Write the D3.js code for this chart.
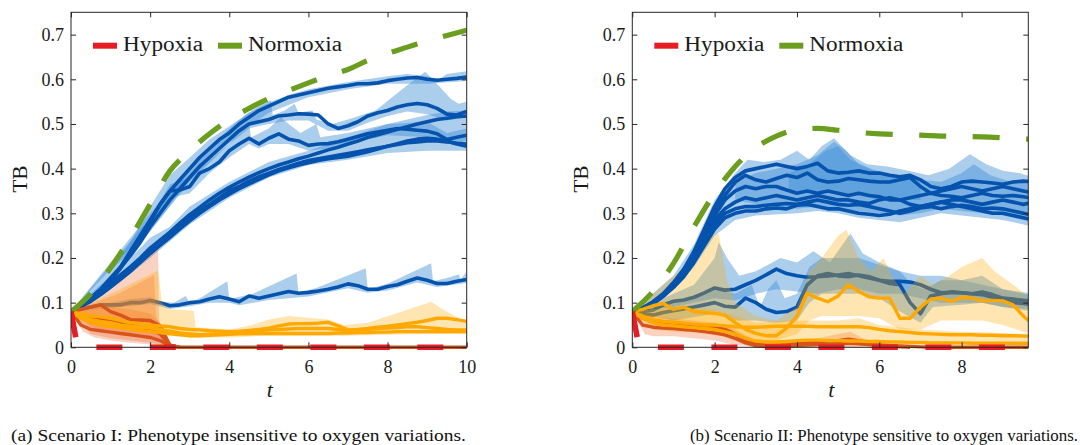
<!DOCTYPE html>
<html><head><meta charset="utf-8">
<script src="https://cdn.jsdelivr.net/npm/d3@7/dist/d3.min.js"></script>
<style>body{margin:0;background:#fff}svg{display:block}</style>
</head><body><svg id="c" width="1080" height="445"></svg>
<script>
// ---------- time grids ----------
const tA = [0,.25,.5,.75,1,1.25,1.5,1.75,2,2.25,2.5,2.75,3,3.25,3.5,3.75,4,4.25,4.5,4.75,5,5.25,5.5,5.75,6,6.25,6.5,6.75,7,7.25,7.5,7.75,8,8.25,8.5,8.75,9,9.25,9.5,9.75,10];
const tB = [0,.25,.5,.75,1,1.25,1.5,1.75,2,2.25,2.5,2.75,3,3.25,3.5,3.75,4,4.25,4.5,4.75,5,5.25,5.5,5.75,6,6.25,6.5,6.75,7,7.25,7.5,7.75,8,8.25,8.5,8.75,9,9.25,9.5,9.75];
const xTicksA = [0,2,4,6,8,10];
const xTicksB = [0,2,4,6,8];
const yTicks = [0,.1,.2,.3,.4,.5,.6,.7];

// ---------- reference curves ----------
const tNormA = [0,.5,1,1.5,2,2.5,3,3.5,4,4.5,5,5.5,6,6.5,7,7.5,8,8.5,9,9.5,10];
const normA  = [.08,.12,.178,.245,.32,.395,.44,.478,.51,.535,.557,.575,.592,.608,.622,.642,.658,.672,.686,.698,.71];
const tNormB = [0,.5,1,1.5,2,2.5,3,3.5,4,4.5,5,5.5,6,6.5,7,7.5,8,8.5,9,9.62];
const normB  = [.08,.125,.188,.27,.345,.405,.447,.473,.487,.49,.486,.481,.478,.476,.475,.473,.472,.471,.469,.466];
const tHypA = [0,.15,.25,10];
const hypA  = [.08,.008,0,0];
const tHypB = [0,.15,.25,9.62];
const hypB  = [.08,.008,0,0];

// ---------- Scenario I: blue trajectories ----------
const blueA1 = [.08,.095,.11,.13,.155,.18,.215,.25,.285,.32,.35,.375,.4,.425,.445,.465,.48,.5,.515,.53,.54,.55,.56,.565,.57,.575,.58,.583,.586,.59,.59,.592,.597,.6,.603,.604,.6,.598,.6,.602,.605];
const blueA2 = [.08,.095,.11,.13,.152,.178,.205,.235,.27,.3,.33,.355,.38,.405,.425,.445,.465,.485,.5,.505,.51,.518,.52,.523,.522,.52,.5,.49,.496,.505,.518,.525,.53,.538,.543,.546,.543,.535,.522,.52,.528];
const blueA3 = [.08,.095,.11,.13,.15,.177,.21,.24,.28,.32,.35,.352,.36,.39,.4,.415,.44,.455,.468,.455,.468,.478,.466,.462,.452,.455,.456,.46,.466,.472,.478,.482,.486,.49,.488,.486,.484,.478,.465,.47,.475];
const blueA4 = [.08,.092,.105,.122,.14,.158,.176,.196,.215,.23,.25,.27,.29,.305,.32,.335,.35,.36,.372,.382,.39,.398,.405,.412,.418,.422,.426,.43,.434,.438,.442,.446,.45,.454,.458,.46,.462,.462,.46,.457,.455];
const blueA5 = [.08,.093,.107,.125,.143,.162,.18,.2,.222,.24,.258,.278,.297,.313,.33,.345,.358,.37,.381,.391,.4,.408,.415,.422,.428,.435,.442,.448,.455,.462,.47,.476,.482,.488,.494,.5,.505,.51,.513,.516,.518];
const blueA6 = [.08,.091,.103,.118,.135,.152,.17,.19,.21,.228,.246,.265,.283,.3,.315,.33,.343,.355,.366,.376,.386,.395,.402,.408,.413,.418,.422,.425,.428,.433,.438,.444,.45,.456,.462,.466,.468,.466,.462,.455,.45];
const blueA7 = [.08,.085,.09,.095,.095,.095,.1,.1,.105,.1,.093,.095,.1,.102,.108,.113,.108,.102,.115,.11,.115,.12,.125,.121,.123,.126,.13,.135,.142,.138,.13,.13,.136,.14,.148,.155,.15,.143,.143,.148,.152];
// ---------- Scenario I: orange / red-orange trajectories ----------
const ambA1 = [.08,.075,.07,.068,.065,.06,.055,.053,.05,.048,.046,.042,.04,.039,.037,.036,.035,.036,.038,.04,.043,.048,.052,.053,.053,.054,.056,.048,.039,.04,.042,.045,.047,.05,.053,.056,.06,.065,.065,.062,.058];
const ambA2 = [.08,.07,.062,.058,.055,.05,.047,.045,.043,.04,.036,.032,.03,.028,.029,.03,.031,.033,.035,.037,.039,.04,.041,.042,.042,.042,.042,.04,.035,.037,.04,.042,.043,.044,.046,.046,.044,.042,.04,.039,.039];
const ambA3 = [.08,.065,.055,.05,.047,.044,.04,.037,.035,.033,.03,.028,.026,.026,.027,.028,.029,.03,.03,.031,.031,.031,.031,.031,.031,.031,.031,.032,.032,.033,.033,.034,.034,.035,.035,.035,.035,.035,.035,.035,.035];
const redA1 = [.08,.085,.09,.095,.08,.072,.062,.061,.06,.048,.005,0,0,0,0,0,0,0,0,0,0,0,0,0,0,0,0,0,0,0,0,0,0,0,0,0,0,0,0,0,0];
const redA2 = [.08,.068,.064,.062,.058,.054,.049,.044,.04,.03,.005,0];
const redA3 = [.08,.05,.04,.037,.034,.031,.028,.025,.022,.015,.003,0];

// ---------- Scenario I: bands [t, value] ----------
const bandA1Hi = [[0,.08],[1,.17],[1.5,.235],[2,.315],[2.5,.385],[3,.425],[3.5,.465],[4,.495],[4.5,.525],[5,.548],[5.5,.565],[6,.578],[7,.594],[8,.607],[8.5,.612],[9,.607],[9.3,.6],[9.5,.612],[10,.618]];
const bandA1Lo = [[0,.08],[1,.14],[2,.26],[3,.375],[4,.465],[5,.525],[6,.56],[7,.578],[8,.59],[9,.59],[10,.596]];
const bandA2Hi = [[0,.08],[2,.3],[3,.4],[4,.49],[4.4,.52],[4.75,.54],[5.05,.553],[5.1,.52],[5.4,.53],[5.65,.545],[5.75,.525],[6.1,.53],[6.2,.51],[6.6,.5],[7,.51],[7.7,.53],[8.4,.58],[8.95,.617],[9.3,.585],[9.6,.556],[9.8,.545],[10,.55]];
const bandA2Lo = [[0,.08],[2,.26],[3,.37],[4,.455],[4.5,.49],[5,.5],[5.5,.508],[6,.508],[6.5,.485],[7,.485],[7.5,.503],[8,.518],[8.5,.528],[9,.522],[9.5,.508],[10,.515]];
const bandA3Hi = [[0,.08],[2,.29],[2.5,.365],[3,.38],[3.5,.42],[4,.455],[4.3,.49],[4.5,.5],[4.55,.47],[5,.49],[5.3,.515],[5.5,.5],[5.8,.48],[6.2,.5],[6.3,.47],[7,.48],[8,.5],[9,.505],[9.5,.48],[10,.49]];
const bandA3Lo = [[0,.08],[2,.27],[2.5,.335],[3,.345],[3.5,.39],[4,.425],[4.5,.455],[4.75,.445],[5,.455],[5.5,.455],[6,.44],[6.5,.445],[7,.455],[8,.475],[9,.47],[9.5,.455],[10,.462]];
const bandA4Hi = [[0,.08],[1,.16],[1.5,.2],[2,.245],[2.5,.27],[3,.315],[4,.37],[5,.415],[6,.44],[7,.47],[7.5,.485],[8,.5],[8.5,.51],[9,.52],[9.5,.528],[10,.53]];
const bandA4Lo = [[0,.08],[1,.13],[2,.2],[3,.275],[4,.335],[5,.38],[6,.408],[7,.42],[8,.435],[9,.44],[10,.44]];
const bandA5Hi = [[0,.08],[.5,.095],[1,.1],[1.5,.108],[2,.112],[2.3,.102],[2.6,.1],[2.9,.115],[3,.1],[3.3,.112],[3.95,.148],[4,.108],[4.6,.12],[5.7,.165],[5.75,.122],[6.2,.133],[7.45,.177],[7.5,.13],[8,.142],[9.1,.188],[9.15,.148],[9.5,.155],[9.8,.163],[9.85,.152],[10,.17]];
const bandA5Lo = [[0,.08],[1,.088],[2,.097],[2.5,.086],[3,.092],[3.5,.1],[4,.1],[4.25,.094],[5,.106],[6,.114],[7,.132],[7.5,.122],[8,.127],[8.75,.145],[9.25,.135],[10,.144]];
const bandA6Hi = [[0,.08],[2.2,.222],[2.23,.06],[2.4,.02],[2.6,0]];
const bandA6Lo = [[0,.08],[.3,.035],[.6,.022],[1,.015],[1.5,.01],[2,.006],[2.6,0]];
const bandA7Hi = [[0,.08],[1.2,.12],[2.1,.162],[2.15,.07],[2.35,.035],[2.5,0]];
const bandA7Lo = [[0,.08],[.5,.045],[1,.035],[2,.025],[2.5,0]];
const bandA8Hi = [[0,.08],[.5,.085],[1,.09],[1.5,.085],[2,.075],[2.3,.05],[2.5,0]];
const bandA8Lo = [[0,.08],[.5,.03],[1,.02],[2,.01],[2.5,0]];
const bandA9Hi = [[0,.08],[1,.12],[2.2,.172],[2.3,.1],[2.5,.085],[3.1,.082],[3.15,.045],[4,.04],[4.5,.048],[5,.062],[5.5,.07],[6,.066],[6.5,.062],[6.9,.05],[7.5,.055],[8.2,.075],[9.1,.102],[9.3,.09],[9.6,.075],[10,.055]];
const bandA9Lo = [[0,.08],[.5,.05],[1,.04],[2,.033],[2.5,.028],[3,.022],[4,.022],[5,.026],[6,.026],[7,.026],[8,.028],[9,.03],[10,.03]];

// ---------- Scenario II: blue trajectories ----------
const blueB1 = [.08,.088,.102,.12,.145,.175,.215,.265,.315,.355,.38,.395,.4,.405,.41,.405,.4,.405,.412,.395,.39,.392,.395,.39,.39,.385,.382,.385,.375,.36,.355,.36,.37,.372,.37,.368,.365,.37,.372,.37];
const blueB2 = [.08,.088,.1,.118,.142,.172,.21,.258,.305,.34,.37,.385,.375,.37,.378,.385,.38,.39,.375,.37,.372,.378,.375,.372,.37,.37,.375,.38,.36,.345,.35,.355,.36,.355,.35,.355,.36,.355,.35,.345];
const blueB3 = [.08,.088,.1,.117,.14,.168,.205,.25,.295,.33,.35,.36,.355,.36,.36,.352,.345,.35,.345,.35,.345,.34,.345,.34,.337,.33,.33,.335,.34,.345,.34,.338,.335,.34,.345,.34,.338,.34,.337,.333];
const blueB4 = [.08,.088,.099,.116,.138,.165,.2,.243,.285,.31,.325,.335,.33,.335,.34,.335,.33,.335,.34,.335,.33,.33,.325,.322,.33,.335,.33,.32,.315,.32,.325,.33,.33,.325,.32,.325,.33,.325,.32,.325];
const blueB5 = [.08,.088,.098,.115,.136,.162,.195,.236,.275,.3,.31,.315,.315,.318,.32,.322,.32,.325,.33,.325,.32,.318,.32,.315,.31,.305,.3,.305,.312,.315,.31,.315,.318,.315,.31,.312,.31,.305,.3,.295];
const blueB6 = [.08,.088,.097,.114,.134,.158,.19,.228,.265,.29,.3,.305,.305,.31,.312,.31,.318,.32,.315,.31,.31,.305,.3,.298,.295,.298,.305,.31,.315,.32,.325,.32,.315,.31,.305,.3,.3,.295,.29,.285];
const blueB7 = [.08,.08,.083,.095,.103,.106,.112,.122,.133,.128,.13,.14,.15,.162,.175,.165,.16,.157,.158,.16,.162,.165,.16,.155,.15,.148,.148,.146,.14,.13,.122,.123,.122,.12,.118,.112,.105,.1,.098,.095];
const blueB8 = [.08,.075,.072,.078,.082,.086,.09,.095,.1,.092,.09,.11,.1,.085,.078,.08,.09,.14,.16,.165,.16,.158,.162,.158,.15,.143,.14,.1,.075,.115,.12,.124,.122,.12,.124,.118,.11,.108,.105,.103];
// ---------- Scenario II: orange / red-orange trajectories ----------
const ambB1 = [.08,.085,.093,.098,.085,.09,.08,.078,.076,.072,.055,.04,.031,.026,.026,.043,.069,.121,.11,.102,.115,.14,.125,.113,.11,.11,.065,.065,.09,.108,.11,.103,.112,.11,.104,.105,.104,.095,.07,.05];
const ambB2 = [.08,.07,.062,.058,.056,.054,.052,.05,.05,.048,.046,.045,.045,.046,.047,.047,.047,.047,.046,.046,.046,.046,.046,.044,.04,.037,.035,.033,.031,.03,.029,.028,.028,.028,.027,.027,.026,.026,.025,.025];
const ambB3 = [.08,.065,.055,.05,.048,.046,.044,.042,.04,.035,.03,.02,.014,.012,.012,.013,.015,.016,.016,.015,.015,.014,.014,.013,.013,.012,.012,.011,.011,.01,.01,.01,.01,.009,.009,.009,.009,.009,.009,.009];
const redB1 = [.08,.065,.06,.057,.055,.052,.05,.048,.045,.04,.03,.015,.008,.006,.006,.007,.008,.01,.012,.014,.015,.018,.015,.01,.006,.004,.003,.002,.001,0,0,0,0,0,0,0,0,0,0,0];
const redB2 = [.08,.05,.045,.043,.042,.04,.038,.035,.032,.028,.02,.01,.004,.002,.002,.003,.004,.005,.006,.007,.008,.009,.008,.006,.004,.002,.001,0];

// ---------- Scenario II: bands [t, value] ----------
const bandB1Hi = [[0,.08],[1,.16],[1.5,.23],[2,.33],[2.5,.39],[2.8,.42],[3.2,.415],[3.6,.42],[4,.44],[4.3,.42],[4.6,.45],[4.9,.468],[5.3,.43],[5.7,.41],[6.2,.405],[6.7,.395],[7.2,.385],[7.7,.4],[8.2,.432],[8.6,.41],[9,.395],[9.4,.39],[9.75,.38]];
const bandB1Lo = [[0,.08],[1,.13],[1.5,.18],[2,.25],[2.5,.285],[3,.295],[4,.3],[4.5,.305],[5,.3],[5.5,.29],[6,.285],[6.5,.28],[7,.29],[7.5,.3],[8,.295],[8.5,.29],[9,.285],[9.5,.275],[9.75,.27]];
const bandB2Hi = [[2.5,.37],[3,.39],[3.5,.4],[4,.41],[4.5,.43],[4.9,.46],[5.2,.44],[5.5,.41],[6,.39],[6.5,.385],[7,.375],[7.5,.37],[8,.39],[8.3,.41],[8.7,.385],[9.2,.37],[9.75,.365]];
const bandB2Lo = [[2.5,.33],[3,.32],[3.5,.315],[4,.31],[4.5,.315],[5,.31],[5.5,.305],[6,.3],[6.5,.295],[7,.3],[7.5,.31],[8,.305],[8.5,.3],[9,.295],[9.75,.28]];
const bandB3Hi = [[3.8,.39],[4.3,.41],[4.7,.44],[5,.45],[5.3,.42],[5.8,.4],[6.3,.385],[7,.37]];
const bandB3Lo = [[3.8,.35],[4.5,.35],[5,.345],[5.5,.34],[6,.33],[7,.33]];
const bandB4Hi = [[0,.08],[1,.12],[1.5,.14],[2,.2],[2.1,.235],[2.3,.2],[2.6,.16],[3,.17],[3.4,.19],[3.6,.2],[4,.19],[4.4,.215],[4.8,.19],[5.3,.255],[5.6,.21],[6,.19],[6.5,.17],[7,.16],[7.5,.16],[8,.15],[8.5,.16],[9,.13],[9.75,.115]];
const bandB4Lo = [[0,.08],[1,.09],[2,.11],[2.5,.105],[3,.12],[3.5,.13],[4,.125],[4.5,.12],[5,.13],[5.5,.13],[6,.12],[6.5,.12],[7,.11],[7.5,.1],[8,.1],[8.5,.1],[9,.09],[9.75,.085]];
const bandB5Hi = [[0,.08],[1,.1],[2,.13],[2.5,.12],[2.9,.14],[3.1,.09],[3.3,.13],[3.5,.15],[3.7,.11],[4,.12],[4.3,.18],[4.6,.2],[5,.2],[5.5,.2],[6,.185],[6.5,.17],[6.8,.14],[7.1,.13],[7.5,.15],[8,.15],[8.5,.14],[9,.13],[9.75,.12]];
const bandB5Lo = [[0,.08],[1,.06],[2,.075],[2.5,.06],[3,.06],[3.5,.055],[4,.06],[4.3,.1],[4.6,.12],[5,.12],[5.5,.12],[6,.11],[6.5,.08],[7,.055],[7.3,.09],[8,.095],[8.5,.1],[9,.09],[9.75,.08]];
const bandB6Hi = [[0,.08],[.5,.12],[1,.16],[1.5,.2],[1.9,.25],[2.1,.255],[2.3,.15],[2.5,.1],[3,.07],[3.5,.06],[4,.09],[4.3,.17],[4.6,.2],[5,.25],[5.2,.263],[5.5,.2],[5.8,.17],[6.1,.2],[6.3,.16],[6.6,.12],[7,.16],[7.3,.14],[7.7,.16],[8,.18],[8.5,.2],[8.8,.17],[9.1,.15],[9.4,.13],[9.75,.1]];
const bandB6Lo = [[0,.08],[.5,.06],[1,.055],[1.5,.05],[2,.045],[2.5,.03],[3,.015],[3.5,.015],[4,.03],[4.3,.06],[4.6,.07],[5,.07],[5.5,.07],[6,.065],[6.5,.04],[7,.04],[7.5,.06],[8,.06],[8.5,.06],[9,.05],[9.5,.035],[9.75,.03]];
const bandB7Hi = [[0,.08],[1,.09],[2,.085],[2.5,.07],[3,.055],[4,.06],[5,.06],[5.5,.065],[6,.05],[7,.04],[8,.035],[9,.032],[9.75,.03]];
const bandB7Lo = [[0,.08],[.5,.04],[1,.035],[2,.03],[2.5,.015],[3,.005],[4,.005],[5,.008],[6,.005],[7,.004],[8,.004],[9.75,.004]];
const bandB8Hi = [[0,.08],[.5,.07],[1,.065],[1.5,.06],[2,.055],[2.5,.04],[3,.015],[4,.015],[4.5,.02],[5,.03],[5.3,.035],[5.6,.02],[6,.01],[6.5,.005],[7,0]];
const bandB8Lo = [[0,.08],[.3,.03],[.5,.025],[1,.025],[1.5,.02],[2,.015],[2.5,.005],[3,0],[7,0]];

// ---------- text ----------
const legendLabels = ["Hypoxia","Normoxia"];
const captionA = "(a) Scenario I: Phenotype insensitive to oxygen variations.";
const captionB = "(b) Scenario II: Phenotype sensitive to oxygen variations.";

// ---------- drawing ----------
const COL = {blue:'#0653ad', band:'#3d8ed6', amber:'#ffa800', amberBand:'#ffaa00', redor:'#d9541a',
             salmon:'#ee6a35', green:'#6b9e1f', red:'#e81c24', axis:'#262626'};
const FONT = 'Liberation Serif, Times New Roman, serif';
const svg = d3.select('#c');
svg.append('rect').attr('width',1080).attr('height',445).attr('fill','#fff');
const defs = svg.append('defs');
const Y0 = 347.3, Y1 = 12.3;

function panel(o){
  const x = d3.scaleLinear().domain([0,o.xmax]).range([o.x0,o.x1]);
  const y = d3.scaleLinear().domain([0,.75]).range([Y0,Y1]);
  const g = svg.append('g');
  defs.append('clipPath').attr('id','cl'+o.id).append('rect')
     .attr('x',o.x0).attr('y',Y1).attr('width',o.x1-o.x0).attr('height',Y0-Y1+3);
  const data = g.append('g').attr('clip-path',`url(#cl${o.id})`);
  const pl = d3.line().x(p=>x(p[0])).y(p=>y(p[1]));
  const band = (hi,lo,fill,op)=> data.append('path')
     .attr('d', pl(hi.concat(lo.slice().reverse()))+'Z')
     .attr('fill',fill).attr('fill-opacity',op).attr('stroke','none');
  const series = (t,v,col,w,dash,curve)=> {
     const ln = d3.line().defined((d,i)=>i<t.length).x((d,i)=>x(t[i])).y(d=>y(d));
     if(curve) ln.curve(curve);
     const p = data.append('path').attr('d',ln(v)).attr('fill','none')
       .attr('stroke',col).attr('stroke-width',w).attr('stroke-linejoin','round');
     if(dash) p.attr('stroke-dasharray',dash);
     return p;
  };
  o.blueBands.forEach(b=>band(b[0],b[1],COL.band,0.43));
  o.lowBlue.forEach(v=>series(o.t,v,COL.blue,3.6));
  o.salmonBands.forEach(b=>band(b[0],b[1],COL.salmon,0.3));
  o.amberBands.forEach(b=>band(b[0],b[1],COL.amberBand,0.3));
  o.topBlue.forEach(v=>series(o.t,v,COL.blue,3.6));
  o.redLines.forEach(v=>series(o.t,v,COL.redor,3.4));
  o.amberLines.forEach(v=>series(o.t,v,COL.amber,3.4));

  // frame and ticks
  g.append('rect').attr('x',o.x0).attr('y',Y1).attr('width',o.x1-o.x0).attr('height',Y0-Y1)
     .attr('fill','none').attr('stroke',COL.axis).attr('stroke-width',1);
  const fmtY = d=> d===0 ? '0' : d3.format('.1f')(d);
  const ax = (sel)=>{ sel.select('.domain').remove();
     sel.attr('font-family',FONT).attr('font-size',18);
     sel.selectAll('line').attr('stroke',COL.axis).attr('stroke-width',1);
     sel.selectAll('text').attr('fill','#1a1a1a'); };
  g.append('g').attr('transform',`translate(${o.x0},0)`)
     .call(d3.axisLeft(y).tickValues(yTicks).tickFormat(fmtY).tickSizeInner(-5).tickSizeOuter(0).tickPadding(7)).call(ax);
  g.append('g').attr('transform',`translate(${o.x1},0)`)
     .call(d3.axisRight(y).tickValues(yTicks).tickFormat(()=>'').tickSizeInner(-5).tickSizeOuter(0)).call(ax);
  g.append('g').attr('transform',`translate(0,${Y0})`)
     .call(d3.axisBottom(x).tickValues(o.xticks).tickFormat(d3.format('d')).tickSizeInner(-5).tickSizeOuter(0).tickPadding(12.5)).call(ax);
  g.append('g').attr('transform',`translate(0,${Y1})`)
     .call(d3.axisTop(x).tickValues(o.xticks).tickFormat(()=>'').tickSizeInner(-5).tickSizeOuter(0)).call(ax);

  // dashed reference curves on top
  series(o.tNorm,o.norm,COL.green,5.2,'27,26.5',d3.curveMonotoneX);
  series(o.tHyp,o.hyp,COL.red,5.6,'26,27.5');

  // axis titles
  g.append('text').attr('transform',`translate(${o.x0-44.5},179) rotate(-90)`)
     .attr('text-anchor','middle').attr('font-family',FONT).attr('font-size',21).attr('fill','#1a1a1a').text('TB');
  g.append('text').attr('x',x(o.xmax/2)+1).attr('y',397).attr('text-anchor','middle')
     .attr('font-family',FONT).attr('font-style','italic').attr('font-size',22).attr('fill','#1a1a1a').text('t');

  // legend
  const lg = g.append('g');
  const ly = 45.7;
  lg.append('line').attr('x1',o.x0+22).attr('x2',o.x0+46).attr('y1',ly).attr('y2',ly).attr('stroke',COL.red).attr('stroke-width',6);
  lg.append('text').attr('x',o.x0+52).attr('y',50.7).attr('font-family',FONT).attr('font-size',20)
     .attr('textLength',80).attr('lengthAdjust','spacingAndGlyphs').attr('fill','#1a1a1a').text(legendLabels[0]);
  lg.append('line').attr('x1',o.x0+147).attr('x2',o.x0+171).attr('y1',ly).attr('y2',ly).attr('stroke',COL.green).attr('stroke-width',6);
  lg.append('text').attr('x',o.x0+177).attr('y',50.7).attr('font-family',FONT).attr('font-size',20)
     .attr('textLength',94).attr('lengthAdjust','spacingAndGlyphs').attr('fill','#1a1a1a').text(legendLabels[1]);

  // caption
  svg.append('text').attr('x',o.capX).attr('y',441).attr('font-family',FONT).attr('font-size',17)
     .attr('textLength',o.capW).attr('lengthAdjust','spacingAndGlyphs').attr('fill','#111').text(o.caption);
}

panel({id:'a', x0:71, x1:466.7, xmax:10, xticks:xTicksA, t:tA,
  blueBands:[[bandA1Hi,bandA1Lo],[bandA2Hi,bandA2Lo],[bandA3Hi,bandA3Lo],[bandA4Hi,bandA4Lo],[bandA5Hi,bandA5Lo]],
  lowBlue:[blueA7],
  salmonBands:[[bandA6Hi,bandA6Lo],[bandA7Hi,bandA7Lo],[bandA8Hi,bandA8Lo]],
  amberBands:[[bandA9Hi,bandA9Lo]],
  topBlue:[blueA4,blueA5,blueA6,blueA3,blueA2,blueA1],
  redLines:[redA1,redA2,redA3],
  amberLines:[ambA3,ambA2,ambA1],
  tNorm:tNormA, norm:normA, tHyp:tHypA, hyp:hypA,
  caption:captionA, capX:11, capW:455});

panel({id:'b', x0:632.3, x1:1028.3, xmax:9.62, xticks:xTicksB, t:tB,
  blueBands:[[bandB1Hi,bandB1Lo],[bandB2Hi,bandB2Lo],[bandB3Hi,bandB3Lo],[bandB4Hi,bandB4Lo],[bandB5Hi,bandB5Lo]],
  lowBlue:[blueB7,blueB8],
  salmonBands:[[bandB8Hi,bandB8Lo]],
  amberBands:[[bandB6Hi,bandB6Lo],[bandB7Hi,bandB7Lo]],
  topBlue:[blueB6,blueB5,blueB4,blueB3,blueB2,blueB1],
  redLines:[redB1,redB2],
  amberLines:[ambB3,ambB2,ambB1],
  tNorm:tNormB, norm:normB, tHyp:tHypB, hyp:hypB,
  caption:captionB, capX:690, capW:388});
</script></body></html>
